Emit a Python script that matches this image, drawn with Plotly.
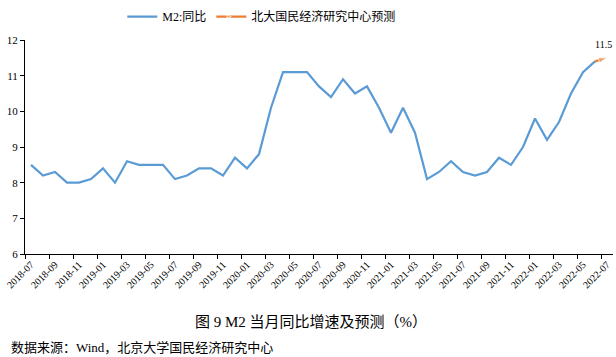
import plotly.graph_objects as go

months = [f"{y}-{m:02d}" for y, m in
          [(2018, m) for m in range(7, 13)] + [(2019, m) for m in range(1, 13)] +
          [(2020, m) for m in range(1, 13)] + [(2021, m) for m in range(1, 13)] +
          [(2022, m) for m in range(1, 8)]]

m2_yoy = [8.5, 8.2, 8.3, 8.0, 8.0, 8.1,
          8.4, 8.0, 8.6, 8.5, 8.5, 8.5, 8.1, 8.2, 8.4, 8.4, 8.2, 8.7,
          8.4, 8.8, 10.1, 11.1, 11.1, 11.1, 10.7, 10.4, 10.9, 10.5, 10.7, 10.1,
          9.4, 10.1, 9.4, 8.1, 8.3, 8.6, 8.3, 8.2, 8.3, 8.7, 8.5, 9.0,
          9.8, 9.2, 9.7, 10.5, 11.1, 11.4]

forecast_months = ["2022-06", "2022-07"]
forecast_vals = [11.4, 11.5]

idx = {m: i for i, m in enumerate(months)}
x_m2 = [idx[m] for m in months[:len(m2_yoy)]]
x_fc = [idx[m] for m in forecast_months]

tick_idx = list(range(0, len(months), 2))
tick_text = [months[i] for i in tick_idx]

FONT = "Liberation Serif, Noto Sans CJK SC, serif"
BLUE = "#5B9BD5"
ORANGE = "#ED7D31"

fig = go.Figure()
fig.add_trace(go.Scatter(x=x_m2, y=m2_yoy, mode="lines", name="M2:同比",
                         line=dict(color=BLUE, width=2.2), cliponaxis=False))
fig.add_trace(go.Scatter(x=x_fc, y=forecast_vals, mode="lines+markers",
                         name="北大国民经济研究中心预测",
                         line=dict(color=ORANGE, width=2.2), cliponaxis=False,
                         marker=dict(symbol="arrow", angleref="previous", size=[0, 9],
                                     color=ORANGE)))

fig.add_annotation(x=x_fc[-1], y=forecast_vals[-1], text=f"{forecast_vals[-1]}",
                   showarrow=False, yshift=13, xshift=-4,
                   font=dict(family=FONT, size=10, color="#000"))

fig.update_layout(
    width=616, height=357,
    margin=dict(l=25, r=3, t=40, b=103, autoexpand=False),
    paper_bgcolor="white", plot_bgcolor="white",
    font=dict(family=FONT, size=11, color="#000"),
    showlegend=True,
    legend=dict(orientation="h", xref="container", yref="container",
                x=0.425, xanchor="center", y=0.994, yanchor="top",
                font=dict(size=12), bgcolor="rgba(0,0,0,0)", tracegroupgap=0,
                itemwidth=30),
    xaxis=dict(range=[-0.5, len(months) - 0.5], tickmode="array", tickvals=tick_idx,
               ticktext=tick_text, tickangle=-45, ticks="", showgrid=False, zeroline=False,
               showline=True, linecolor="#000", linewidth=1, automargin=False,
               tickfont=dict(size=10), ticklabeloverflow="allow",
               minor=dict(tickmode="array",
                          tickvals=[i - 0.5 for i in range(0, len(months) + 1, 2)],
                          ticks="outside", ticklen=4, tickcolor="#000", showgrid=False)),
    yaxis=dict(range=[6, 12], dtick=1, ticks="outside", ticklen=4, tickcolor="#000",
               showgrid=False, zeroline=False, showline=True, linecolor="#000",
               linewidth=1, tickfont=dict(size=11), automargin=False),
)

fig.add_annotation(text="图 9 M2 当月同比增速及预测（%）", xref="paper", yref="paper",
                   x=0.486, y=-0.318, yanchor="middle", showarrow=False, font=dict(size=15))
fig.add_annotation(text="数据来源：Wind，北京大学国民经济研究中心", xref="paper", yref="paper",
                   x=-0.027, xanchor="left", y=-0.435, yanchor="middle", showarrow=False,
                   font=dict(size=13))

fig.write_html("out.html", config={"displayModeBar": False},
               post_script="document.body.style.margin='0';document.body.style.overflow='hidden';")
